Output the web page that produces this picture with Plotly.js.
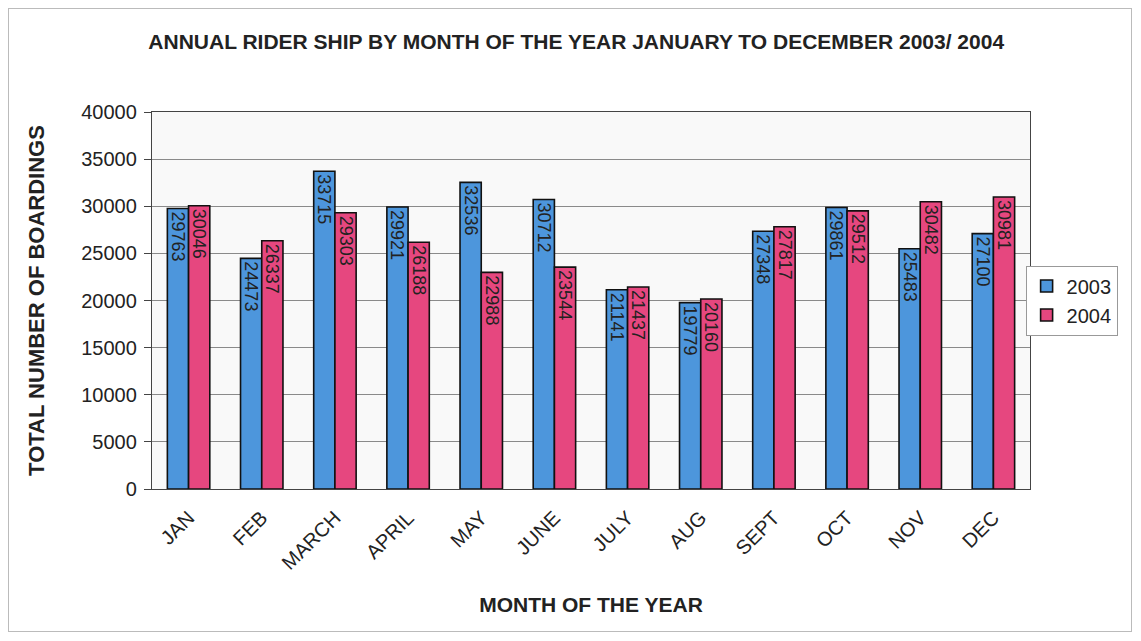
<!DOCTYPE html>
<html>
<head>
<meta charset="utf-8">
<script src="https://cdn.plot.ly/plotly-3.0.1.min.js"></script>
<style>
html,body{margin:0;padding:0;background:#fff;}
#frame{position:absolute;left:8px;top:8px;width:1124px;height:624px;border:1px solid #bbb;box-sizing:border-box;}
#chart{position:absolute;left:0;top:0;width:1141px;height:641px;}
</style>
</head>
<body>
<div id="frame"></div>
<div id="chart"></div>
<script>
const months = ["JAN","FEB","MARCH","APRIL","MAY","JUNE","JULY","AUG","SEPT","OCT","NOV","DEC"];
const riders2003 = [29763,24473,33715,29921,32536,30712,21141,19779,27348,29861,25483,27100];
const riders2004 = [30046,26337,29303,26188,22988,23544,21437,20160,27817,29512,30482,30981];
const seriesNames = ["2003","2004"];
const yTicks = [0,5000,10000,15000,20000,25000,30000,35000,40000];

const common = {
  type: "bar",
  x: months,
  textposition: "inside",
  insidetextanchor: "end",
  textangle: 90,
  constraintext: "none",
  textfont: {family: "Liberation Sans, Arial, sans-serif", size: 18, color: "#222"},
  cliponaxis: false
};
const traces = [
  Object.assign({}, common, {name: seriesNames[0], y: riders2003, text: riders2003.map(String),
    marker: {color: "#4d96dc", line: {color: "#111", width: 1.6}}}),
  Object.assign({}, common, {name: seriesNames[1], y: riders2004, text: riders2004.map(String),
    marker: {color: "#e6477f", line: {color: "#111", width: 1.6}}})
];
const layout = {
  width: 1141, height: 641,
  margin: {l: 152, r: 111, t: 112, b: 152},
  paper_bgcolor: "rgba(0,0,0,0)",
  plot_bgcolor: "#f9f9f9",
  font: {family: "Liberation Sans, Arial, sans-serif", color: "#222"},
  title: {text: "<b>ANNUAL RIDER SHIP BY MONTH OF THE YEAR JANUARY TO DECEMBER 2003/ 2004</b>",
    x: 0.505, xanchor: "center", y: 0.935, yanchor: "middle",
    font: {size: 21, color: "#222"}},
  barmode: "group",
  bargap: 0.42,
  bargroupgap: 0,
  xaxis: {
    tickangle: -45, tickfont: {size: 20}, showline: true, linecolor: "#444", linewidth: 1.2,
    mirror: true, ticks: "", showgrid: false, ticklabelstandoff: 8,
    title: {text: "<b>MONTH OF THE YEAR</b>", font: {size: 21}, standoff: 24}
  },
  yaxis: {
    range: [0, 40000], tickvals: yTicks, tickformat: "d", tickfont: {size: 20}, ticks: "outside", ticklen: 7,
    tickcolor: "#444", showline: true, linecolor: "#444", linewidth: 1.2, mirror: true,
    showgrid: true, gridcolor: "#8a8a8a", gridwidth: 1, zeroline: false, ticklabelstandoff: 3,
    title: {text: "<b>TOTAL NUMBER OF BOARDINGS</b>", font: {size: 22}, standoff: 30}
  },
  legend: {
    x: 0.995, xanchor: "left", xref: "paper", y: 0.5, yanchor: "middle",
    bordercolor: "#999", borderwidth: 1, bgcolor: "#fff",
    font: {size: 20}, tracegroupgap: 2, itemwidth: 30
  }
};
Plotly.newPlot("chart", traces, layout, {displayModeBar: false, staticPlot: true});
</script>
</body>
</html>
